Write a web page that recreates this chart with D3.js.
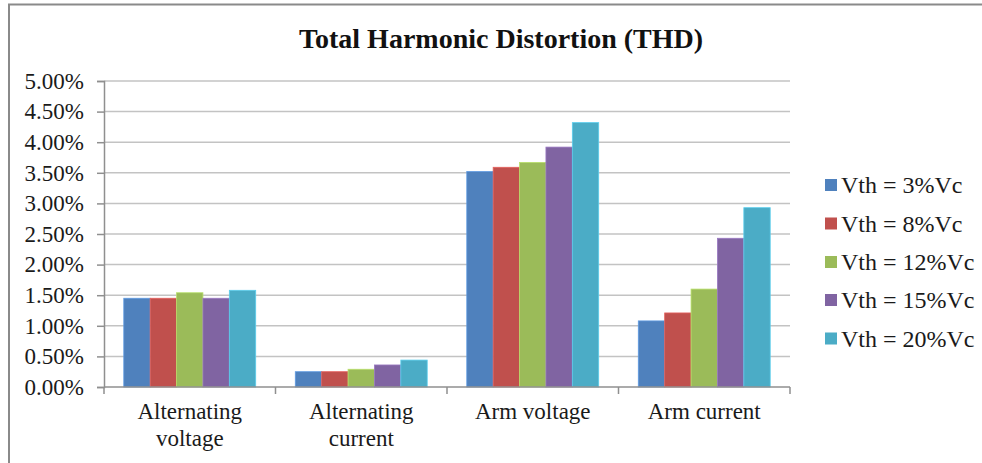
<!DOCTYPE html>
<html>
<head>
<meta charset="utf-8">
<script src="https://cdn.jsdelivr.net/npm/d3@7"></script>
<style>
  html, body { margin: 0; padding: 0; background: #fff; }
  svg { display: block; }
  text { font-family: "Liberation Serif", "Times New Roman", serif; fill: #1a1a1a; }
</style>
</head>
<body>
<svg id="chart" width="982" height="463"></svg>
<script>
// THD (%) per measured quantity, one array per threshold setting
const categories = [["Alternating", "voltage"], ["Alternating", "current"], ["Arm voltage"], ["Arm current"]];
const seriesNames = ["Vth = 3%Vc", "Vth = 8%Vc", "Vth = 12%Vc", "Vth = 15%Vc", "Vth = 20%Vc"];
const vth3  = [1.45, 0.25, 3.52, 1.08];
const vth8  = [1.45, 0.25, 3.59, 1.21];
const vth12 = [1.54, 0.29, 3.67, 1.60];
const vth15 = [1.45, 0.36, 3.92, 2.43];
const vth20 = [1.58, 0.44, 4.32, 2.93];
const seriesValues = [vth3, vth8, vth12, vth15, vth20];
const colors = ["#4F81BD", "#C0504D", "#9BBB59", "#8064A2", "#4BACC6"];
const yTicks = [0, 0.5, 1, 1.5, 2, 2.5, 3, 3.5, 4, 4.5, 5];
const titleText = "Total Harmonic Distortion (THD)";

const svg = d3.select("#chart");
const W = 982, H = 463;
const plot = { left: 104, right: 790, top: 81, bottom: 387 };

// outer frame (top and left edges)
svg.append("path")
  .attr("d", `M9,${H} L9,4.5 L${W},4.5`)
  .attr("fill", "none")
  .attr("stroke", "#8a8a8a")
  .attr("stroke-width", 2);

// title
svg.append("text")
  .attr("x", 501).attr("y", 47.5)
  .attr("text-anchor", "middle")
  .attr("font-size", 28)
  .attr("font-weight", "bold")
  .style("fill", "#111")
  .text(titleText);

const y = d3.scaleLinear().domain([0, 5]).range([plot.bottom, plot.top]);
const x0 = d3.scaleBand().domain(d3.range(categories.length)).range([plot.left, plot.right]).padding(0);
const x1 = d3.scaleBand().domain(d3.range(seriesNames.length)).range([0, x0.bandwidth()])
  .paddingInner(0).paddingOuter(0.75);

// horizontal gridlines
svg.append("g")
  .selectAll("line")
  .data(yTicks.filter(t => t > 0))
  .join("line")
  .attr("x1", plot.left).attr("x2", plot.right)
  .attr("y1", d => y(d)).attr("y2", d => y(d))
  .attr("stroke", "#c3c3c3")
  .attr("stroke-width", 1.5);

// y axis
const yAxis = svg.append("g")
  .attr("transform", `translate(${plot.left},0)`)
  .call(d3.axisLeft(y).tickValues(yTicks).tickSize(7).tickPadding(13)
    .tickFormat(d => d.toFixed(2) + "%"));
yAxis.select(".domain").attr("stroke", "#8f8f8f").attr("stroke-width", 1.5);
yAxis.selectAll(".tick line").attr("stroke", "#8f8f8f").attr("stroke-width", 1.5);
yAxis.selectAll(".tick text")
  .attr("font-size", 23)
  .attr("font-family", "Liberation Serif, Times New Roman, serif")
  .style("fill", "#1a1a1a");

// bars
const groups = svg.append("g")
  .selectAll("g")
  .data(categories.map((c, i) => i))
  .join("g")
  .attr("transform", i => `translate(${x0(i)},0)`);

groups.selectAll("rect")
  .data(i => seriesValues.map((vals, s) => ({ s, v: vals[i] })))
  .join("rect")
  .attr("x", d => x1(d.s))
  .attr("width", x1.bandwidth())
  .attr("y", d => y(d.v))
  .attr("height", d => y(0) - y(d.v))
  .attr("fill", d => colors[d.s])
  .attr("stroke", d => d3.color(colors[d.s]).brighter(0.5))
  .attr("stroke-width", 0.8);

// x axis baseline and category boundary ticks
const xAxisG = svg.append("g");
xAxisG.append("line")
  .attr("x1", plot.left).attr("x2", plot.right)
  .attr("y1", plot.bottom).attr("y2", plot.bottom)
  .attr("stroke", "#8f8f8f").attr("stroke-width", 1.5);
const bounds = d3.range(categories.length + 1).map(i => i < categories.length ? x0(i) : plot.right);
xAxisG.selectAll("line.tk")
  .data(bounds)
  .join("line")
  .attr("class", "tk")
  .attr("x1", d => d).attr("x2", d => d)
  .attr("y1", plot.bottom).attr("y2", plot.bottom + 7)
  .attr("stroke", "#8f8f8f").attr("stroke-width", 1.5);

// category labels
xAxisG.selectAll("text")
  .data(categories.map((c, i) => ({ c, i })))
  .join("text")
  .attr("text-anchor", "middle")
  .attr("font-size", 23)
  .each(function(d) {
    const t = d3.select(this);
    d.c.forEach((line, k) => {
      t.append("tspan")
        .attr("x", x0(d.i) + x0.bandwidth() / 2)
        .attr("y", 419 + k * 27)
        .text(line);
    });
  });

// legend
const legend = svg.append("g").attr("transform", "translate(825,0)");
const rowY = [185, 223.5, 262, 300, 338.5];
const items = legend.selectAll("g")
  .data(seriesNames.map((n, i) => ({ n, i })))
  .join("g")
  .attr("transform", d => `translate(0,${rowY[d.i]})`);
items.append("rect")
  .attr("x", 0).attr("y", -6)
  .attr("width", 12).attr("height", 12)
  .attr("fill", d => colors[d.i]);
items.append("text")
  .attr("x", 16).attr("y", 8)
  .attr("font-size", 24)
  .text(d => d.n);
</script>
</body>
</html>
